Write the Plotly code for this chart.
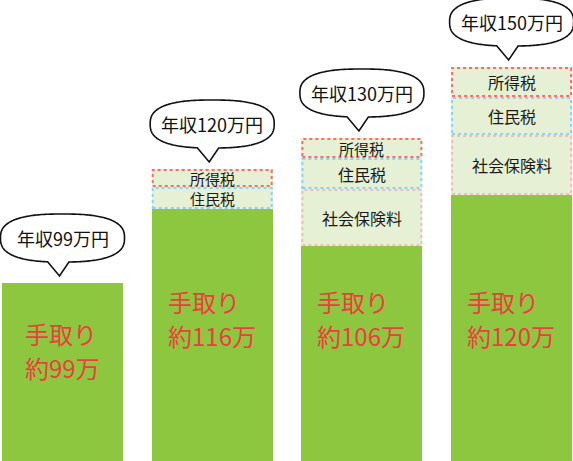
import numpy as np
import plotly.graph_objects as go

# illustration is not drawn to scale, so heights are read off the picture (px)
incomes = ["年収99万円", "年収120万円", "年収130万円", "年収150万円"]
takehome_labels = ["約99万", "約116万", "約106万", "約120万"]
segment_names = ["手取り", "社会保険料", "住民税", "所得税"]

height_takehome = [178, 252, 215, 266]
height_social = [0, 0, 57, 60]
height_resident = [0, 22, 31, 38]
height_income_tax = [0, 18, 20, 30]

W, H = 573, 461
BAR_W = 0.808
PX = 149.7            # px per category step
X0 = -62.5 / PX       # left edge of the page in x units
FONT = "Noto Sans CJK JP"

green = "#8dc63f"
pale = "#e5f0d4"
borders = {"社会保険料": "#f5bcbc", "住民税": "#8ed2f5", "所得税": "#ff6a6a"}

xs = list(range(len(incomes)))
stacks = [height_takehome, height_social, height_resident, height_income_tax]

fig = go.Figure()
for name, vals in zip(segment_names, stacks):
    fig.add_trace(go.Bar(
        x=xs, y=vals, width=BAR_W, name=name,
        marker=dict(color=green if name == "手取り" else pale, line=dict(width=0)),
        hoverinfo="skip",
    ))

shapes = []
annotations = []
for i in xs:
    base = 0
    for name, vals in zip(segment_names, stacks):
        h = vals[i]
        if h <= 0:
            continue
        if name != "手取り":
            shapes.append(dict(
                type="rect", xref="x", yref="y",
                x0=i - BAR_W / 2 + 1 / PX, x1=i + BAR_W / 2 - 1 / PX,
                y0=base + 1, y1=base + h - 1,
                line=dict(color=borders[name], width=2, dash="dot"),
                layer="above",
            ))
            annotations.append(dict(
                x=i, y=base + h / 2, xref="x", yref="y", text=name,
                showarrow=False, borderpad=0,
                font=dict(family=FONT, size=16 if h >= 25 else 15, color="#1a1a1a"),
            ))
        base += h

    # take-home label, two red lines near the top of the green bar
    h0 = height_takehome[i]
    y1 = min(h0 - 50, 160)
    xl = i - BAR_W / 2 + (21 if i == 0 else 14) / PX
    for txt, yy in ((segment_names[0], y1), (takehome_labels[i], y1 - 34)):
        annotations.append(dict(
            x=xl, y=yy, xref="x", yref="y", text=txt, xanchor="left",
            showarrow=False, font=dict(family=FONT, size=24, color="#ee3d3d"),
        ))

    # speech bubble above the stack
    top = sum(s[i] for s in stacks)
    tip = top + 7
    cy = tip + 14 + 24
    a, b, n = 62, 24, 2.6
    th = np.linspace(-np.pi / 2, 1.5 * np.pi, 240)
    c, s = np.cos(th), np.sin(th)
    ex = a * np.sign(c) * np.abs(c) ** (2 / n)
    ey = b * np.sign(s) * np.abs(s) ** (2 / n)
    keep = ~((ey < 0) & (ex > -14) & (ex < 5))
    ex, ey = ex[keep], ey[keep]
    # start right after the tail's right base, go round to its left base
    start = np.argmax((ey < 0) & (ex >= 5))
    ex = np.roll(ex, -start)
    ey = np.roll(ey, -start)
    pts = [(i + px / PX, cy + py) for px, py in zip(ex, ey)]
    pts.append((i - 3 / PX, tip))
    path = "M " + " L ".join(f"{px:.4f},{py:.2f}" for px, py in pts) + " Z"
    shapes.append(dict(
        type="path", xref="x", yref="y", path=path,
        fillcolor="white", line=dict(color="#111111", width=1.6), layer="above",
    ))
    annotations.append(dict(
        x=i, y=cy, xref="x", yref="y", text=incomes[i],
        showarrow=False, font=dict(family=FONT, size=18, color="#111111"),
    ))

fig.update_layout(
    width=W, height=H,
    margin=dict(l=0, r=0, t=0, b=0),
    barmode="stack", bargap=0,
    showlegend=False,
    paper_bgcolor="white", plot_bgcolor="white",
    xaxis=dict(range=[X0, X0 + W / PX], visible=False, fixedrange=True),
    yaxis=dict(range=[0, H], visible=False, fixedrange=True),
    shapes=shapes,
    annotations=annotations,
)

# drop the page's default body margin so the chart sits at the window corner
fig.write_html("out.html", config={"displayModeBar": False},
               post_script="document.body.style.margin='0';")
